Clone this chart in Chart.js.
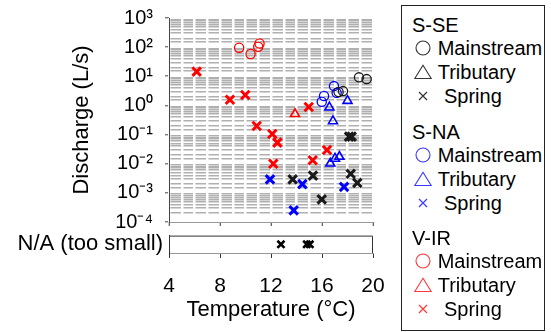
<!DOCTYPE html>
<html>
<head>
<meta charset="utf-8">
<script src="https://cdn.jsdelivr.net/npm/chart.js@4.4.1/dist/chart.umd.min.js"></script>
<style>
body { margin:0; width:551px; height:332px; background:#fff; position:relative; overflow:hidden; font-family:'Liberation Sans', Arial, sans-serif; }
#mainBox { position:absolute; left:0; top:0; width:395px; height:232px; }
#naBox { position:absolute; left:0; top:228px; width:395px; height:104px; }
#legend { position:absolute; left:401px; top:5px; width:144px; height:326px; border:1px solid #222; box-sizing:border-box; }
.lg { position:absolute; font-size:20px; line-height:24px; color:#000; white-space:nowrap; }
.sym { position:absolute; }
</style>
</head>
<body>
<div id="mainBox"><canvas id="mainChart"></canvas></div>
<div id="naBox"><canvas id="naChart"></canvas></div>
<div id="legend"></div>
<script>
Chart.defaults.font.family = "'Liberation Sans', Arial, sans-serif";
Chart.defaults.color = '#000';

// S-SE (black)
const sseMainT = [17.3, 17.65, 18.9, 19.5];
const sseMainQ = [2.9, 3.1, 9.2, 8.0];
const sseTribT = [];
const sseTribQ = [];
const sseSpringT = [18.12, 18.33, 13.7, 15.29, 15.98, 18.25, 18.77];
const sseSpringQ = [0.085, 0.085, 0.0029, 0.0039, 0.0006, 0.0045, 0.0022];

// S-NA (blue)
const snaMainT = [15.98, 16.16, 16.94, 17.15];
const snaMainQ = [1.34, 2.1, 4.6, 2.7];
const snaTribT = [16.58, 18.0, 16.86, 16.65, 17.02, 17.36];
const snaTribQ = [0.86, 1.44, 0.29, 0.0102, 0.015, 0.0174];
const snaSpringT = [11.92, 14.46, 13.78, 17.73];
const snaSpringQ = [0.0029, 0.002, 0.00025, 0.0016];

// V-IR (red)
const virMainT = [9.5, 10.4, 11.0, 11.1];
const virMainQ = [95, 58, 103, 134];
const virTribT = [13.88];
const virTribQ = [0.51];
const virSpringT = [6.17, 8.78, 9.98, 14.96, 10.88, 12.1, 12.5, 12.18, 15.27, 16.39];
const virSpringQ = [14.4, 1.57, 2.27, 0.88, 0.197, 0.105, 0.053, 0.010, 0.0131, 0.0295];

// springs with discharge too small to measure
const naLabel = 'N/A (too small)';
const naSpringT = [12.78, 14.8, 15.05];

const groups = ['S-SE', 'S-NA', 'V-IR'];
const kinds = ['Mainstream', 'Tributary', 'Spring'];
const xTicks = [4, 8, 12, 16, 20];

const BLACK = '#1a1a1a', BLUE = '#0000ff', RED = '#ff0000';

function pts(ts, qs) {
    return ts.map((t, i) => ({x: t, y: qs[i]}));
}

function isDecade(v) {
    const l = Math.log10(v);
    return Math.abs(l - Math.round(l)) < 1e-6;
}

const supers = {'-': '\u207B', '0': '\u2070', '1': '\u00B9', '2': '\u00B2', '3': '\u00B3', '4': '\u2074'};
function powLabel(v) {
    const e = Math.round(Math.log10(v));
    return '10' + String(e).split('').map(c => supers[c]).join('');
}

// fixed axis sizes so both panels line up, no extra label padding
function fixW(w) {
    return s => { s.width = w; s.paddingTop = 0; s.paddingBottom = 0; s.paddingLeft = 0; s.paddingRight = 0; };
}
function fixH(h) {
    return s => { s.height = h; s.paddingTop = 0; s.paddingBottom = 0; s.paddingLeft = 0; s.paddingRight = 0; };
}

function mk(label, data, color, style) {
    let r = 4.6, w = 1.3;
    if (style === 'triangle') { r = 5.2; w = 1.6; }
    if (style === 'crossRot') { r = 6; w = 3; }
    return {
        label: label, data: data, pointStyle: style,
        pointRadius: r, pointHoverRadius: r,
        borderColor: color, backgroundColor: 'transparent',
        pointBorderWidth: w, showLine: false
    };
}

new Chart(document.getElementById('mainChart'), {
    type: 'scatter',
    data: {
        datasets: [
            mk('S-SE Mainstream', pts(sseMainT, sseMainQ), BLACK, 'circle'),
            mk('S-SE Tributary', pts(sseTribT, sseTribQ), BLACK, 'triangle'),
            mk('S-SE Spring', pts(sseSpringT, sseSpringQ), BLACK, 'crossRot'),
            mk('S-NA Mainstream', pts(snaMainT, snaMainQ), BLUE, 'circle'),
            mk('S-NA Tributary', pts(snaTribT, snaTribQ), BLUE, 'triangle'),
            mk('S-NA Spring', pts(snaSpringT, snaSpringQ), BLUE, 'crossRot'),
            mk('V-IR Mainstream', pts(virMainT, virMainQ), RED, 'circle'),
            mk('V-IR Tributary', pts(virTribT, virTribQ), RED, 'triangle'),
            mk('V-IR Spring', pts(virSpringT, virSpringQ), RED, 'crossRot')
        ]
    },
    options: {
        responsive: true,
        maintainAspectRatio: false,
        animation: false,
        layout: { padding: {left: 65, top: 18, right: 22, bottom: 0} },
        plugins: { legend: {display: false}, tooltip: {enabled: false} },
        scales: {
            x: {
                type: 'linear', min: 4, max: 20,
                ticks: { stepSize: 1, autoSkip: false, maxRotation: 0, callback: () => '' },
                grid: {
                    color: '#fff', lineWidth: 2.5, z: -1,
                    tickLength: 4, tickWidth: 1,
                    tickColor: c => (c.tick && xTicks.includes(c.tick.value)) ? '#333' : 'transparent'
                },
                border: { color: '#999', width: 1 },
                afterFit: fixH(10)
            },
            y: {
                type: 'logarithmic', min: 1e-4, max: 1e3,
                ticks: {
                    autoSkip: false, padding: 12, font: {size: 20},
                    callback: v => isDecade(v) ? powLabel(v) : ''
                },
                grid: {
                    color: c => (c.tick && isDecade(c.tick.value)) ? 'transparent' : '#b0b0b0',
                    lineWidth: 1.6, z: -2,
                    tickLength: 4, tickWidth: 1,
                    tickColor: c => (c.tick && isDecade(c.tick.value)) ? '#444' : 'transparent'
                },
                border: { color: '#444', width: 1 },
                title: { display: true, text: 'Discharge (L/s)', font: {size: 22}, padding: {top: 4, bottom: 4} },
                afterFit: fixW(104)
            }
        }
    }
});

// top and right edges of the N/A strip
const frame = {
    id: 'frame',
    beforeDatasetsDraw(chart) {
        const {ctx, chartArea: a} = chart;
        ctx.save();
        ctx.strokeStyle = '#333';
        ctx.lineWidth = 1;
        ctx.beginPath();
        ctx.moveTo(a.left, a.top + 0.5);
        ctx.lineTo(a.right - 0.5, a.top + 0.5);
        ctx.lineTo(a.right - 0.5, a.bottom);
        ctx.stroke();
        ctx.restore();
    }
};

new Chart(document.getElementById('naChart'), {
    type: 'scatter',
    data: {
        datasets: [{
            label: 'N/A Spring',
            data: naSpringT.map(t => ({x: t, y: naLabel})),
            pointStyle: 'crossRot', pointRadius: 5, pointHoverRadius: 5,
            borderColor: '#000', backgroundColor: 'transparent', pointBorderWidth: 2.6
        }]
    },
    options: {
        responsive: true,
        maintainAspectRatio: false,
        animation: false,
        layout: { padding: {left: 2, top: 7, right: 22, bottom: 5} },
        plugins: { legend: {display: false}, tooltip: {enabled: false} },
        scales: {
            x: {
                type: 'linear', min: 4, max: 20,
                ticks: { stepSize: 4, maxRotation: 0, padding: 16, font: {size: 21} },
                grid: { drawOnChartArea: false, tickLength: 5, color: '#333' },
                border: { color: '#999', width: 1 },
                title: { display: true, text: 'Temperature (°C)', font: {size: 22}, padding: {top: 0, bottom: 4} },
                afterFit: fixH(74)
            },
            y: {
                type: 'category', labels: [naLabel], offset: true,
                ticks: { padding: 6, font: {size: 22} },
                grid: { display: false, drawTicks: false },
                border: { color: '#333', width: 1 },
                afterFit: fixW(167)
            }
        }
    },
    plugins: [frame]
});

// legend box
const legendColors = ['#333333', '#3a3aff', '#ff3a3a'];
const legend = document.getElementById('legend');
function symbol(kind, color) {
    if (kind === 'Mainstream') {
        return '<circle cx="9" cy="9" r="7" fill="none" stroke="' + color + '" stroke-width="1.1"/>';
    }
    if (kind === 'Tributary') {
        return '<polygon points="0.8,15.5 17.2,15.5 9,2.2" fill="none" stroke="' + color + '" stroke-width="1.1"/>';
    }
    return '<path d="M5,5 L13,13 M13,5 L5,13" stroke="' + color + '" stroke-width="1.2"/>';
}
groups.forEach((g, gi) => {
    const hy = 25 + gi * 106.5;
    const h = document.createElement('div');
    h.className = 'lg';
    h.style.left = (412 - 402) + 'px';
    h.style.top = (hy - 12 - 6) + 'px';
    h.textContent = g;
    legend.appendChild(h);
    kinds.forEach((k, ki) => {
        const cy = hy + 23 + ki * 24;
        const s = document.createElement('div');
        s.className = 'sym';
        s.style.left = (414 - 402) + 'px';
        s.style.top = (cy - 9 - 6) + 'px';
        s.innerHTML = '<svg width="18" height="18" viewBox="0 0 18 18">' + symbol(k, legendColors[gi]) + '</svg>';
        legend.appendChild(s);
        const t = document.createElement('div');
        t.className = 'lg';
        t.style.left = ((k === 'Spring' ? 444 : 437.7) - 402) + 'px';
        t.style.top = (cy - 12 - 6) + 'px';
        t.textContent = k;
        legend.appendChild(t);
    });
});
</script>
</body>
</html>
